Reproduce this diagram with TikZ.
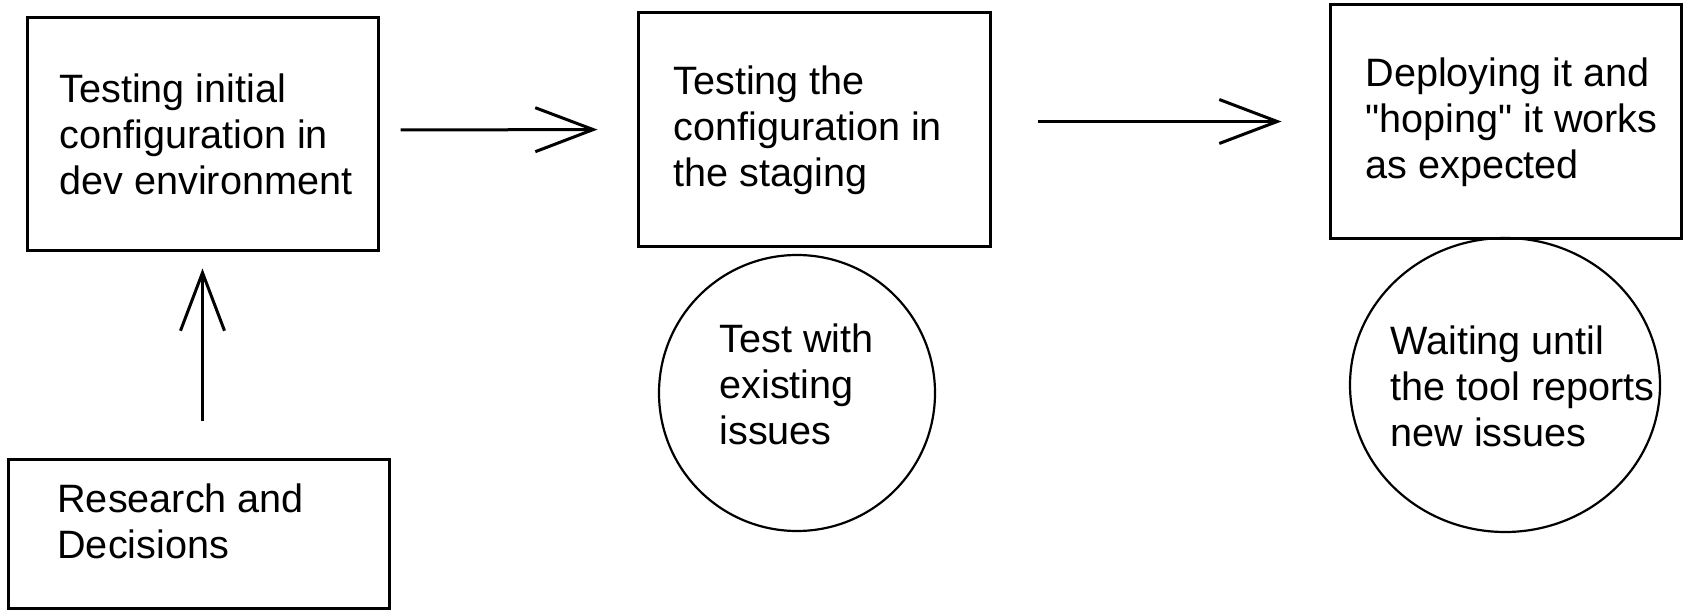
\documentclass[tikz,border=0pt]{standalone}
\usepackage{fontspec}
\setmainfont{Liberation Sans}
\usetikzlibrary{arrows.meta,shapes.geometric}
\begin{document}
\begin{tikzpicture}[x=0.5pt,y=-0.5pt,
  stage/.style={draw,rectangle,line width=1.5pt,inner sep=0pt},
  note/.style={draw,ellipse,line width=1.1pt,inner sep=0pt},
  txt/.style={anchor=west,align=left,inner sep=0pt,font=\fontsize{19.8pt}{23pt}\selectfont},
  flow/.style={line width=1.5pt,-{Straight Barb[length=29pt,width=22pt]}}]
\useasboundingbox (0,0) rectangle (1685,610);

% process steps
\node[stage,minimum width=175.5pt,minimum height=116pt] (dev) at (202.5,134) {};
\node[stage,minimum width=176pt,minimum height=116.5pt] (staging) at (814,129.5) {};
\node[stage,minimum width=175.5pt,minimum height=116.5pt] (deploy) at (1505.5,121.5) {};
\node[stage,minimum width=190.5pt,minimum height=74.5pt] (research) at (198.5,533.5) {};

% side notes
\node[note,minimum width=138pt,minimum height=138pt] (existing) at (797,393) {};
\node[note,minimum width=155pt,minimum height=147pt] (waiting) at (1505,385) {};

% texts
\node[txt] (devtext) at (59,134) {Testing initial\\configuration in\\dev environment};
\node[txt] (stagingtext) at (673,130) {Testing the\\configuration in\\the staging};
\node[txt] (deploytext) at (1365,122) {Deploying it and\\\textquotedbl hoping\textquotedbl{} it works\\as expected};
\node[txt] (researchtext) at (57,521) {Research and\\Decisions};
\node[txt] (existingtext) at (719,384) {Test with\\existing\\issues};
\node[txt] (waitingtext) at (1390,386) {Waiting until\\the tool reports\\new issues};

% connectors
\draw[flow,shorten <=18.5pt,shorten >=8.5pt] (dev.south |- research.north) -- (dev.south);
\draw[flow,shorten <=10.5pt,shorten >=19.5pt] ([yshift=2pt]dev.east) -- (staging.west);
\draw[flow,shorten <=23pt,shorten >=23.5pt] ([yshift=4pt]staging.east) -- (deploy.west);
\end{tikzpicture}
\end{document}
